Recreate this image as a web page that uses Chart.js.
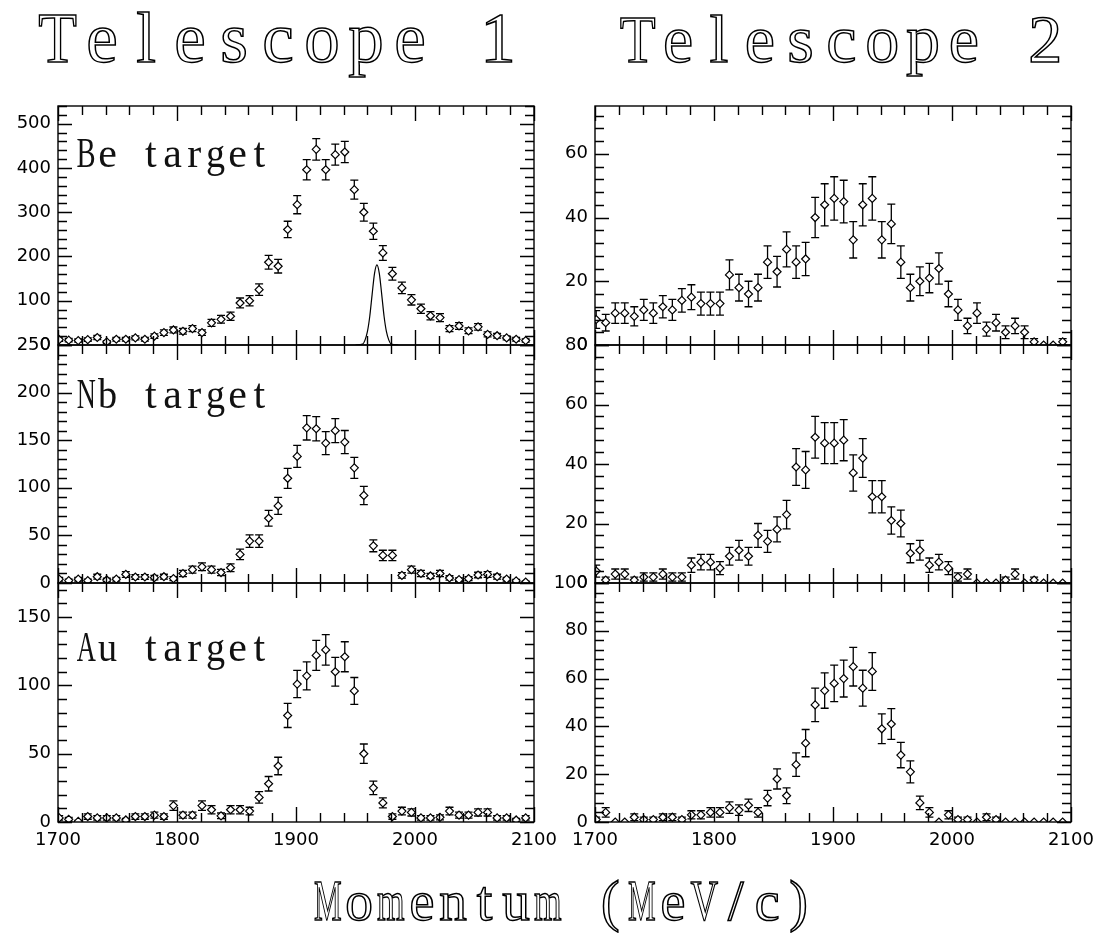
<!DOCTYPE html>
<html>
<head>
<meta charset="utf-8">
<script src="https://cdn.jsdelivr.net/npm/chart.js@4.4.0/dist/chart.umd.min.js"></script>
<style>
  html, body { margin: 0; padding: 0; background: #fff; }
  body { width: 1102px; height: 933px; position: relative; overflow: hidden; }
  canvas { position: absolute; }
  .mono { position: absolute; font-family: 'Liberation Serif', serif; line-height: 1; white-space: pre; filter: grayscale(1); }
  .mono .cell { display: inline-flex; justify-content: center; }
  .mono .glyph { display: inline-block; }
  .hollow { color: #fff; -webkit-text-stroke: 1.5px #000; }
  .tag { color: #111; }
</style>
</head>
<body>
<div class="mono hollow" style="left:36px; top:3px; font-size:71px" data-cell="44">Telescope 1</div>
<div class="mono hollow" style="left:617px; top:5px; font-size:68px" data-cell="40.8">Telescope 2</div>
<div class="mono hollow" style="left:312px; top:873px; font-size:56px" data-cell="31.4">Momentum (MeV/c)</div>
<div class="mono tag" style="left:75px; top:132px; font-size:42px" data-cell="21.7">Be target</div>
<div class="mono tag" style="left:75px; top:373px; font-size:42px" data-cell="21.7">Nb target</div>
<div class="mono tag" style="left:75px; top:626px; font-size:42px" data-cell="21.7">Au target</div>

<script>
// bin centres (MeV/c), 8 MeV bins
const momentum = [1701, 1709, 1717, 1725, 1733, 1741, 1749, 1757, 1765, 1773,
  1781, 1789, 1797, 1805, 1813, 1821, 1829, 1837, 1845, 1853,
  1861, 1869, 1877, 1885, 1893, 1901, 1909, 1917, 1925, 1933,
  1941, 1949, 1957, 1965, 1973, 1981, 1989, 1997, 2005, 2013,
  2021, 2029, 2037, 2045, 2053, 2061, 2069, 2077, 2085, 2093];

// Telescope 1
const t1Be = [12, 11, 10, 12, 17, 7, 13, 13, 16, 13, 20, 28, 34, 31, 37, 28, 50, 58, 65, 95,
  100, 125, 187, 178, 261, 317, 396, 442, 396, 430, 436, 351, 300, 257, 208, 161, 129, 102, 82, 66,
  62, 37, 43, 32, 41, 24, 21, 16, 13, 10];
const t1BeErr = [4.0, 3.8, 3.6, 4.0, 4.7, 3.0, 4.1, 4.1, 4.6, 4.1, 5.1, 6.1, 6.7, 6.4, 7.0, 6.1, 8.1, 8.8, 9.3, 11.2,
  11.5, 12.9, 15.7, 15.3, 18.6, 20.5, 22.9, 24.2, 22.9, 23.8, 24.0, 21.5, 19.9, 18.4, 16.6, 14.6, 13.1, 11.6, 10.4, 9.3,
  9.1, 7.0, 7.5, 6.5, 7.4, 5.6, 5.3, 4.6, 4.1, 3.6];
const t1Nb = [4, 2.5, 4, 2.5, 6.6, 3.2, 4, 9, 6.3, 6.3, 5.6, 6.6, 4.6, 10, 14, 17, 14, 11, 16, 30,
  44, 44, 68, 81, 110, 133, 163, 162, 147, 160, 148, 121, 92, 39, 29, 29, 8, 14, 10, 7.4,
  10, 5.3, 3.5, 4.6, 8.4, 9, 6.6, 4, 2.2, 1];
const t1NbErr = [2.0, 1.6, 2.0, 1.6, 2.6, 1.8, 2.0, 3.0, 2.5, 2.5, 2.4, 2.6, 2.1, 3.2, 3.7, 4.1, 3.7, 3.3, 4.0, 5.5,
  6.6, 6.6, 8.2, 9.0, 10.5, 11.5, 12.8, 12.7, 12.1, 12.6, 12.2, 11.0, 9.6, 6.2, 5.4, 5.4, 2.8, 3.7, 3.2, 2.7,
  3.2, 2.3, 1.9, 2.1, 2.9, 3.0, 2.6, 2.0, 1.5, 1.0];
const t1Au = [3, 2, 0.5, 4, 3, 3, 3, 1.5, 4, 4, 5, 4, 12, 5, 5, 12, 9, 4.5, 9, 9,
  8, 18, 28, 41, 78, 101, 107, 122, 126, 110, 121, 96, 50, 25, 14, 4, 8, 7, 3, 3,
  3.4, 8, 5, 5, 7, 7, 3, 3, 1.5, 3];
const t1AuErr = [1.7, 1.4, 0.7, 2.0, 1.7, 1.7, 1.7, 1.2, 2.0, 2.0, 2.2, 2.0, 3.5, 2.2, 2.2, 3.5, 3.0, 2.1, 3.0, 3.0,
  2.8, 4.2, 5.3, 6.4, 8.8, 10.0, 10.3, 11.0, 11.2, 10.5, 11.0, 9.8, 7.1, 5.0, 3.7, 2.0, 2.8, 2.6, 1.7, 1.7,
  1.8, 2.8, 2.2, 2.2, 2.6, 2.6, 1.7, 1.7, 1.2, 1.7];

// Telescope 2
const t2Be = [8, 7, 10, 10, 9, 11, 10, 12, 11, 14, 15, 13, 13, 13, 22, 18, 16, 18, 26, 23,
  30, 26, 27, 40, 44, 46, 45, 33, 44, 46, 33, 38, 26, 18, 20, 21, 24, 16, 11, 6,
  10, 5, 7, 4, 6, 4, 1, 0, 0, 1];
const t2BeErr = [2.8, 2.6, 3.2, 3.2, 3.0, 3.3, 3.2, 3.5, 3.3, 3.7, 3.9, 3.6, 3.6, 3.6, 4.7, 4.2, 4.0, 4.2, 5.1, 4.8,
  5.5, 5.1, 5.2, 6.3, 6.6, 6.8, 6.7, 5.7, 6.6, 6.8, 5.7, 6.2, 5.1, 4.2, 4.5, 4.6, 4.9, 4.0, 3.3, 2.4,
  3.2, 2.2, 2.6, 2.0, 2.4, 2.0, 1.0, 0, 0, 1.0];
const t2Nb = [4, 1, 3, 3, 1, 2, 2, 3, 2, 2, 6, 7, 7, 5, 9, 11, 9, 16, 14, 18,
  23, 39, 38, 49, 47, 47, 48, 37, 42, 29, 29, 21, 20, 10, 11, 6, 7, 5, 2, 3,
  0, 0, 0, 1, 3, 0, 1, 0, 0, 0];
const t2NbErr = [2.0, 1.0, 1.7, 1.7, 1.0, 1.4, 1.4, 1.7, 1.4, 1.4, 2.4, 2.6, 2.6, 2.2, 3.0, 3.3, 3.0, 4.0, 3.7, 4.2,
  4.8, 6.2, 6.2, 7.0, 6.9, 6.9, 6.9, 6.1, 6.5, 5.4, 5.4, 4.6, 4.5, 3.2, 3.3, 2.4, 2.6, 2.2, 1.4, 1.7,
  0, 0, 0, 1.0, 1.7, 0, 1.0, 0, 0, 0];
const t2Au = [1, 4, 0, 0, 2, 1, 1, 2, 2, 1, 3, 3, 4, 4, 6, 5, 7, 4, 10, 18,
  11, 24, 33, 49, 55, 58, 60, 65, 56, 63, 39, 41, 28, 21, 8, 4, 0, 3, 1, 1,
  0, 2, 1, 0, 0, 0, 0, 0, 0, 0];
const t2AuErr = [1.0, 2.0, 0, 0, 1.4, 1.0, 1.0, 1.4, 1.4, 1.0, 1.7, 1.7, 2.0, 2.0, 2.4, 2.2, 2.6, 2.0, 3.2, 4.2,
  3.3, 4.9, 5.7, 7.0, 7.4, 7.6, 7.7, 8.1, 7.5, 7.9, 6.2, 6.4, 5.3, 4.6, 2.8, 2.0, 0, 1.7, 1.0, 1.0,
  0, 1.4, 1.0, 0, 0, 0, 0, 0, 0, 0];

// beam resolution curve drawn in the Be panel of telescope 1
const beamMomentum = [1950, 1956, 1958, 1960, 1962, 1964, 1966, 1968, 1970, 1972, 1974, 1976, 1978, 1980, 1986];
const beamProfile = [0, 2, 11, 30, 65, 115, 162, 181, 162, 115, 65, 30, 11, 2, 0];

// panel geometry (page pixels)
const COL_X = [58, 595];
const ROW_Y = [106, 345, 583];
const ROW_H = [239, 238, 239];
const PW = 476;

const panels = [
  { col: 0, row: 0, values: t1Be, errs: t1BeErr, yMax: 540, major: 100, minor: 20, curve: true },
  { col: 0, row: 1, values: t1Nb, errs: t1NbErr, yMax: 250, major: 50, minor: 10 },
  { col: 0, row: 2, values: t1Au, errs: t1AuErr, yMax: 175, major: 50, minor: 10 },
  { col: 1, row: 0, values: t2Be, errs: t2BeErr, yMax: 75, major: 20, minor: 4 },
  { col: 1, row: 1, values: t2Nb, errs: t2NbErr, yMax: 80, major: 20, minor: 4 },
  { col: 1, row: 2, values: t2Au, errs: t2AuErr, yMax: 100, major: 20, minor: 4 }
];

const tickFont = { family: 'DejaVu Sans', size: 18 };

// fixed-pitch lettering like the plotting package's font; wide letters squeezed into their cell
document.querySelectorAll('.mono').forEach(el => {
  const cell = parseFloat(el.dataset.cell);
  const text = el.textContent;
  el.textContent = '';
  for (const ch of text) {
    const box = document.createElement('span');
    box.className = 'cell';
    box.style.width = cell + 'px';
    const g = document.createElement('span');
    g.className = 'glyph';
    g.textContent = ch;
    box.appendChild(g);
    el.appendChild(box);
    const w = g.getBoundingClientRect().width;
    if (w > cell * 0.88) g.style.transform = 'scaleX(' + (cell * 0.88 / w).toFixed(3) + ')';
  }
});

// error bars under the markers
function errorBarPlugin(values, errs) {
  return {
    id: 'errorBars',
    beforeDatasetsDraw(chart) {
      const { ctx, chartArea: a, scales: { x, y } } = chart;
      ctx.save();
      ctx.beginPath();
      ctx.rect(a.left, a.top, a.right - a.left, a.bottom - a.top);
      ctx.clip();
      ctx.strokeStyle = '#000';
      ctx.lineWidth = 1.3;
      ctx.beginPath();
      values.forEach((v, i) => {
        const e = errs[i];
        if (!e) return;
        const px = x.getPixelForValue(momentum[i]);
        const y1 = y.getPixelForValue(v - e);
        const y2 = y.getPixelForValue(v + e);
        ctx.moveTo(px, y1); ctx.lineTo(px, y2);
        ctx.moveTo(px - 4, y1); ctx.lineTo(px + 4, y1);
        ctx.moveTo(px - 4, y2); ctx.lineTo(px + 4, y2);
      });
      ctx.stroke();
      ctx.restore();
    }
  };
}

// box with inward ticks on all four sides
function framePlugin(major, minor) {
  return {
    id: 'frame',
    afterDraw(chart) {
      const { ctx, chartArea: a, scales: { x, y } } = chart;
      ctx.save();
      ctx.strokeStyle = '#000';
      ctx.lineWidth = 1.4;
      ctx.strokeRect(a.left, a.top, a.right - a.left, a.bottom - a.top);
      ctx.beginPath();
      for (let v = 1700; v <= 2100; v += 20) {
        const px = Math.round(x.getPixelForValue(v)) + 0.5;
        const len = v % 100 === 0 ? 15 : 9;
        ctx.moveTo(px, a.bottom); ctx.lineTo(px, a.bottom - len);
        ctx.moveTo(px, a.top); ctx.lineTo(px, a.top + len);
      }
      for (let v = 0; v <= y.max; v += minor) {
        const py = Math.round(y.getPixelForValue(v)) + 0.5;
        const len = v % major === 0 ? 14 : 9;
        ctx.moveTo(a.left, py); ctx.lineTo(a.left + len, py);
        ctx.moveTo(a.right, py); ctx.lineTo(a.right - len, py);
      }
      ctx.stroke();
      ctx.restore();
    }
  };
}

panels.forEach(p => {
  const left = COL_X[p.col], top = ROW_Y[p.row], h = ROW_H[p.row];
  const bottomRow = p.row === 2;
  const cw = 60 + PW + 30;
  const ch = 14 + h + 16 + (bottomRow ? 34 : 0);
  const cv = document.createElement('canvas');
  cv.width = cw; cv.height = ch;
  cv.style.left = (left - 60) + 'px';
  cv.style.top = (top - 14) + 'px';
  cv.style.width = cw + 'px';
  cv.style.height = ch + 'px';
  document.body.appendChild(cv);

  const datasets = [{
    data: momentum.map((m, i) => ({ x: m, y: p.values[i] })),
    showLine: false,
    pointStyle: 'rectRot',
    pointRadius: 4,
    pointHoverRadius: 4,
    pointBorderWidth: 1.2,
    pointBorderColor: '#000',
    pointBackgroundColor: '#fff',
    clip: 0
  }];
  if (p.curve) {
    datasets.push({
      data: beamMomentum.map((m, i) => ({ x: m, y: beamProfile[i] })),
      showLine: true,
      pointRadius: 0,
      borderColor: '#000',
      borderWidth: 1.2,
      cubicInterpolationMode: 'monotone',
      clip: 0
    });
  }

  new Chart(cv, {
    type: 'scatter',
    data: { datasets },
    options: {
      responsive: false,
      animation: false,
      devicePixelRatio: 1,
      layout: { padding: { left: 0, top: 14, right: 30, bottom: 16 } },
      plugins: { legend: { display: false }, tooltip: { enabled: false }, title: { display: false } },
      scales: {
        x: {
          type: 'linear', min: 1700, max: 2100,
          grid: { display: false, drawTicks: false },
          border: { display: false },
          ticks: {
            display: bottomRow, stepSize: 100, autoSkip: false, maxRotation: 0,
            color: '#000', font: tickFont, padding: 8,
            callback: v => String(v)
          },
          afterFit: s => {
            s.height = bottomRow ? 34 : 0;
            s.paddingLeft = 0; s.paddingRight = 0;
          }
        },
        y: {
          type: 'linear', min: 0, max: p.yMax,
          grid: { display: false, drawTicks: false },
          border: { display: false },
          ticks: {
            stepSize: p.major, includeBounds: false, autoSkip: false,
            color: '#000', font: tickFont, padding: 7,
            callback: v => String(v)
          },
          afterFit: s => {
            s.width = 60;
            s.paddingTop = 0; s.paddingBottom = 0;
          }
        }
      }
    },
    plugins: [errorBarPlugin(p.values, p.errs), framePlugin(p.major, p.minor)]
  });
});
</script>
</body>
</html>
